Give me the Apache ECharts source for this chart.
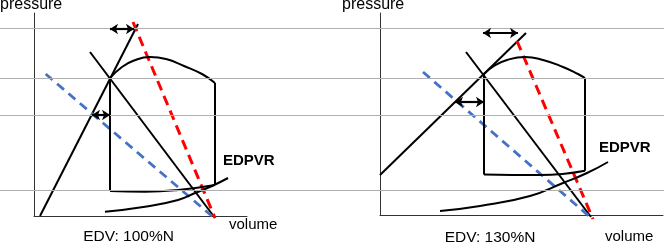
<!DOCTYPE html>
<html><head><meta charset="utf-8">
<script src="https://cdn.jsdelivr.net/npm/echarts@6/dist/echarts.min.js"></script>
<style>html,body{margin:0;padding:0;background:#fff}#c{width:664px;height:246px}</style>
</head><body><div id="c"></div>
<script>
// Background reference levels (rows across the whole figure)
const referenceLevels = [28, 78, 115, 190];

// Left panel: EDV 100%N  (volume, pressure in arbitrary units)
const L_espvr  = [[6,0],[104,192]];
const L_ea     = [[56,164],[181,-2]];
const L_blue   = [[11.7,142],[179,-1]];
const L_red    = [[99,194],[181,-2]];
const L_pvTop  = [[76,138],[88,149],[100,155.5],[116,159],[132,157],[150,150],[168,142],[181,133]];
const L_pvLeft = [[76,138],[76,25]];
const L_pvBot  = [[76,25],[111,24.3],[144,26],[181,31]];
const L_pvRight= [[181,31],[181,133]];
const L_edpvr  = [[71,4.3],[111,9.3],[144,16],[161,23],[178,30],[194,38]];
const L_arrows = [[[76,187],[100,187]],[[58,101],[76,101]]];
const L_edv    = [[1,-8],[180,-8]];

// Right panel: EDV 130%N
const R_espvr  = [[0,40],[146,182]];
const R_ea     = [[86,163],[211,-2]];
const R_blue   = [[43,143],[210,-2]];
const R_red    = [[137,174],[213,-4]];
const R_pvTop  = [[104,141],[114,149],[127,155],[145,158],[163,155],[183,148],[198,141],[205,137]];
const R_pvLeft = [[104,141],[104,40.5]];
const R_pvBot  = [[104,40.5],[160,40],[205,44.3]];
const R_pvRight= [[205,44.3],[205,137]];
const R_edpvr  = [[60,4],[100,9],[150,19],[183,32],[207,42],[228,53]];
const R_arrows = [[[103,182],[138,182]],[[75,113],[104,113]]];
const R_edv    = [[0,-10],[212,-10]];

const labels = {pressure:'pressure', volume:'volume', edpvr:'EDPVR', edvL:'EDV: 100%N', edvR:'EDV: 130%N'};

const FONT = '"Liberation Sans", Arial, sans-serif';
function lineS(idx, data, color, width, dash, smooth){
  return {type:'line', xAxisIndex:idx, yAxisIndex:idx, data:data, symbol:'none', smooth:smooth||false,
    clip:false, silent:true, lineStyle:{color:color, width:width, type: dash || 'solid'}, z:3};
}
function arrowS(idx, arrows, width, size){
  return {type:'line', xAxisIndex:idx, yAxisIndex:idx, data:[], clip:false, silent:true,
    markLine:{silent:true, animation:false, symbol:['arrow','arrow'], symbolSize:size,
      label:{show:false}, lineStyle:{color:'#000', width:width, type:'solid'},
      emphasis:{disabled:true},
      data: arrows.map(a=>[{coord:a[0]},{coord:a[1]}])}, z:4};
}
function panel(idx, P){
  return [
    lineS(idx, P.espvr, '#000', 2),
    lineS(idx, P.ea, '#000', 2),
    lineS(idx, P.blue, '#4472c4', 2.8, [9,6]),
    lineS(idx, P.red, '#ff0000', 3, [10,6]),
    lineS(idx, P.pvTop, '#000', 2, null, 0.5),
    lineS(idx, P.pvLeft, '#000', 2),
    lineS(idx, P.pvBot, '#000', 2, null, 0.5),
    lineS(idx, P.pvRight, '#000', 2),
    lineS(idx, P.edpvr, '#000', 2, null, 0.5),
    arrowS(idx, P.arrows, 2.2, 8),
    arrowS(idx, [P.edv], 1, 7)
  ];
}
const axisBase = {type:'value', axisLine:{show:true, onZero:false, lineStyle:{color:'#333', width:1}},
  axisTick:{show:false}, axisLabel:{show:false}, splitLine:{show:false}};

const chart = echarts.init(document.getElementById('c'), null, {renderer:'canvas'});
function txt(t, x, y, size, align, bold){
  return {type:'text', style:{text:t, x:x, y:y, font:(bold?'bold ':'')+size+'px '+FONT, fill:'#000',
    align:align, verticalAlign:'middle', textAlign:align, textVerticalAlign:'middle'}};
}
chart.setOption({
  animation:false,
  grid:[
    {left:0, top:0, width:664, height:246},
    {left:34, top:13, width:213, height:203},
    {left:380, top:13, width:283, height:202}
  ],
  xAxis:[
    {type:'value', gridIndex:0, min:0, max:664, show:false},
    Object.assign({gridIndex:1, min:0, max:213}, axisBase),
    Object.assign({gridIndex:2, min:0, max:283}, axisBase)
  ],
  yAxis:[
    {type:'value', gridIndex:0, min:0, max:246, inverse:true, show:false},
    Object.assign({gridIndex:1, min:0, max:203}, axisBase),
    Object.assign({gridIndex:2, min:0, max:202}, axisBase)
  ],
  series:[
    {type:'line', xAxisIndex:0, yAxisIndex:0, data:[], silent:true, z:0,
      markLine:{silent:true, symbol:['none','none'], label:{show:false}, animation:false,
        lineStyle:{color:'#b0b0b0', width:1, type:'solid'},
        data: referenceLevels.map(v=>({yAxis:v}))}}
  ].concat(
    panel(1, {espvr:L_espvr, ea:L_ea, blue:L_blue, red:L_red, pvTop:L_pvTop, pvLeft:L_pvLeft, pvBot:L_pvBot, pvRight:L_pvRight, edpvr:L_edpvr, arrows:L_arrows, edv:L_edv}),
    panel(2, {espvr:R_espvr, ea:R_ea, blue:R_blue, red:R_red, pvTop:R_pvTop, pvLeft:R_pvLeft, pvBot:R_pvBot, pvRight:R_pvRight, edpvr:R_edpvr, arrows:R_arrows, edv:R_edv})
  ),
  graphic:[
    txt(labels.pressure, 0, 5, 16, 'left'),
    txt(labels.pressure, 342, 5, 16, 'left'),
    txt(labels.volume, 229, 224.7, 15, 'left'),
    txt(labels.volume, 605, 236.4, 15, 'left'),
    txt(labels.edvL, 128.5, 236.4, 15.5, 'center'),
    txt(labels.edvR, 490, 237.4, 15.5, 'center'),
    txt(labels.edpvr, 223, 160.4, 15, 'left', true),
    txt(labels.edpvr, 599, 147.4, 15, 'left', true)
  ]
});
</script></body></html>
